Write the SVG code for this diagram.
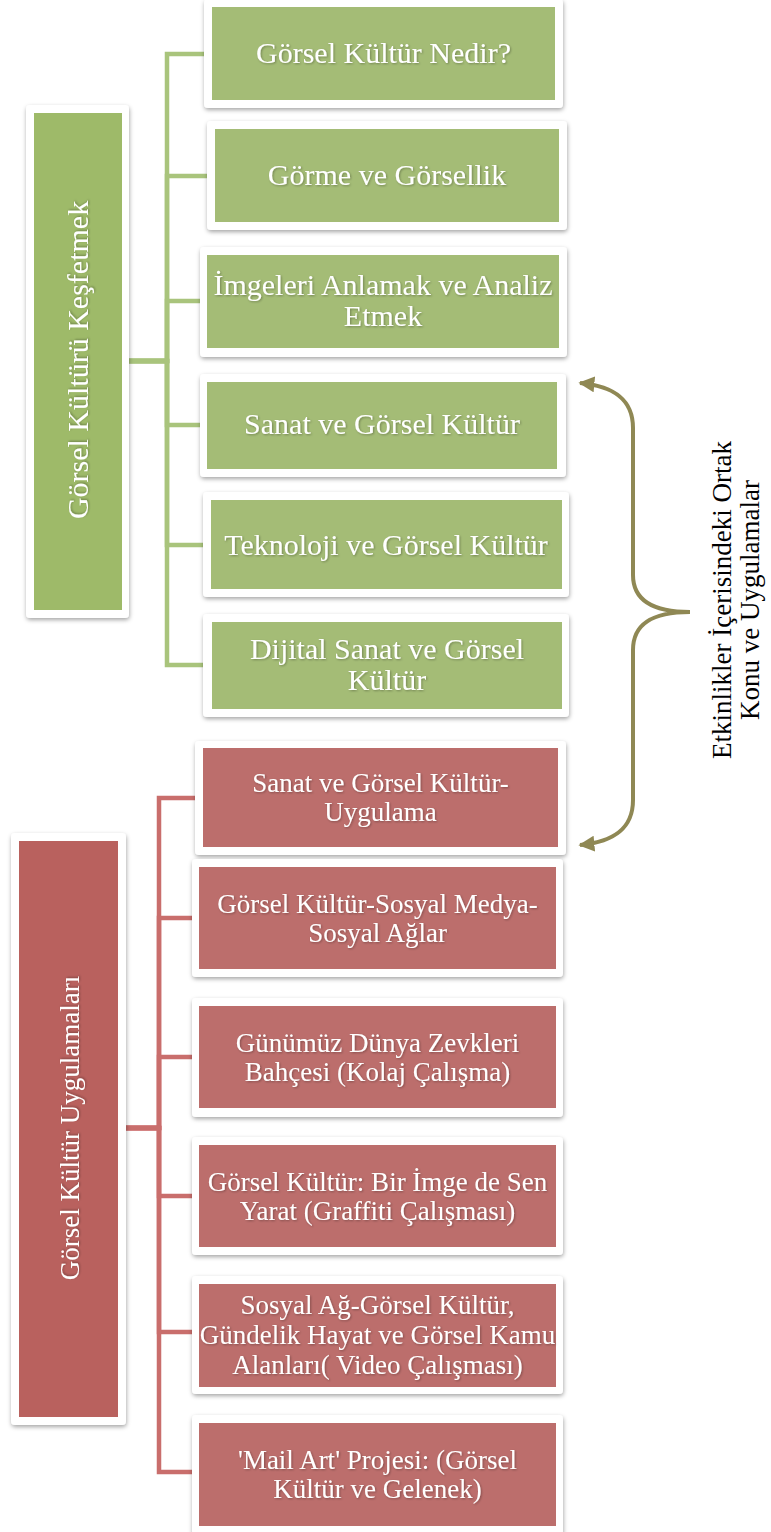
<svg xmlns="http://www.w3.org/2000/svg" width="771" height="1532" viewBox="0 0 771 1532">
  <style>
    .frame { fill: #ffffff; filter: url(#shadow); }
    .g-root { fill: #9EBA69; }
    .g-child { fill: #A4BC76; }
    .r-root { fill: #B9615E; }
    .r-child { fill: #BC6E6C; }
    .g-conn { fill: none; stroke: #A9C47C; stroke-width: 4.5; }
    .r-conn { fill: none; stroke: #C96E6C; stroke-width: 4.5; }
    .g-txt { font-family: "Liberation Serif", serif; font-size: 30px; fill: #ffffff; text-anchor: middle; filter: url(#tshadow); }
    .r-txt { font-family: "Liberation Serif", serif; font-size: 27px; fill: #ffffff; text-anchor: middle; filter: url(#tshadow); }
    .side { font-family: "Liberation Serif", serif; font-size: 27px; fill: #000000; text-anchor: middle; }
    .brace { fill: none; stroke: #8F8854; stroke-width: 4; marker-start: url(#ah); marker-end: url(#ah); }
  </style>
  <defs>
    <filter id="shadow" x="-10%" y="-10%" width="120%" height="130%">
      <feDropShadow dx="0.5" dy="2" stdDeviation="2" flood-color="#000000" flood-opacity="0.35"/>
    </filter>
    <filter id="tshadow" x="-5%" y="-20%" width="110%" height="140%">
      <feDropShadow dx="1" dy="1" stdDeviation="1" flood-color="#000000" flood-opacity="0.3"/>
    </filter>
    <marker id="ah" viewBox="0 0 10 10" refX="9" refY="5" markerWidth="4" markerHeight="4" markerUnits="strokeWidth" orient="auto-start-reverse">
      <path d="M0,0 L10,5 L0,10 z" fill="#8F8854"/>
    </marker>
  </defs>

  <rect width="771" height="1532" fill="#ffffff"/>

  <g id="connectors">
    <path class="g-conn" d="M129 361 H167 V54 H205"/>
    <path class="g-conn" d="M129 361 H167 V176 H208"/>
    <path class="g-conn" d="M129 361 H167 V301 H201"/>
    <path class="g-conn" d="M129 361 H167 V425 H201"/>
    <path class="g-conn" d="M129 361 H167 V545 H204"/>
    <path class="g-conn" d="M129 361 H167 V665 H204"/>
    <path class="r-conn" d="M126 1128 H159 V798 H196"/>
    <path class="r-conn" d="M126 1128 H159 V918 H193"/>
    <path class="r-conn" d="M126 1128 H159 V1057 H193"/>
    <path class="r-conn" d="M126 1128 H159 V1196 H193"/>
    <path class="r-conn" d="M126 1128 H159 V1332 H193"/>
    <path class="r-conn" d="M126 1128 H159 V1472 H193"/>
    <path class="brace" d="M580 383 C612 386 633 398 633 428 L633 575 C633 600 652 612 690 612 C652 612 633 624 633 650 L633 800 C633 830 612 842 580 845"/>
  </g>

  <g id="root-green">
    <rect class="frame" x="26" y="105" width="103" height="513" rx="4"/>
    <rect class="g-root" x="34" y="113" width="88" height="497"/>
    <text class="g-txt" transform="translate(88,360) rotate(-90)">Görsel Kültürü Keşfetmek</text>
  </g>

  <g id="g1">
    <rect class="frame" x="204" y="-1" width="359" height="109" rx="4"/>
    <rect class="g-child" x="212" y="7" width="343" height="93"/>
    <text class="g-txt" x="383.5" y="63">Görsel Kültür Nedir?</text>
  </g>
  <g id="g2">
    <rect class="frame" x="207" y="121" width="360" height="109" rx="4"/>
    <rect class="g-child" x="215" y="129" width="344" height="93"/>
    <text class="g-txt" x="387" y="185">Görme ve Görsellik</text>
  </g>
  <g id="g3">
    <rect class="frame" x="200" y="247" width="367" height="110" rx="4"/>
    <rect class="g-child" x="207" y="255" width="352" height="93"/>
    <text class="g-txt" x="383" y="295">İmgeleri Anlamak ve Analiz</text>
    <text class="g-txt" x="383" y="326">Etmek</text>
  </g>
  <g id="g4">
    <rect class="frame" x="200" y="374" width="366" height="103" rx="4"/>
    <rect class="g-child" x="207" y="382" width="350" height="87"/>
    <text class="g-txt" x="382" y="434">Sanat ve Görsel Kültür</text>
  </g>
  <g id="g5">
    <rect class="frame" x="203" y="492" width="366" height="105" rx="4"/>
    <rect class="g-child" x="211" y="500" width="351" height="89"/>
    <text class="g-txt" x="386" y="555">Teknoloji ve Görsel Kültür</text>
  </g>
  <g id="g6">
    <rect class="frame" x="203" y="614" width="366" height="103" rx="4"/>
    <rect class="g-child" x="212" y="622" width="350" height="87"/>
    <text class="g-txt" x="387" y="659">Dijital Sanat ve Görsel</text>
    <text class="g-txt" x="387" y="690">Kültür</text>
  </g>

  <g id="root-red">
    <rect class="frame" x="11" y="833" width="115" height="592" rx="4"/>
    <rect class="r-root" x="19" y="841" width="99" height="576"/>
    <text class="r-txt" transform="translate(79,1128) rotate(-90)">Görsel Kültür Uygulamaları</text>
  </g>

  <g id="r1">
    <rect class="frame" x="195" y="741" width="371" height="114" rx="4"/>
    <rect class="r-child" x="203" y="748" width="355" height="99"/>
    <text class="r-txt" x="380.5" y="792">Sanat ve Görsel Kültür-</text>
    <text class="r-txt" x="380.5" y="821">Uygulama</text>
  </g>
  <g id="r2">
    <rect class="frame" x="192" y="859" width="371" height="118" rx="4"/>
    <rect class="r-child" x="199" y="867" width="357" height="102"/>
    <text class="r-txt" x="377.5" y="913">Görsel Kültür-Sosyal Medya-</text>
    <text class="r-txt" x="377.5" y="942">Sosyal Ağlar</text>
  </g>
  <g id="r3">
    <rect class="frame" x="192" y="998" width="371" height="119" rx="4"/>
    <rect class="r-child" x="199" y="1006" width="357" height="102"/>
    <text class="r-txt" x="377.5" y="1052">Günümüz Dünya Zevkleri</text>
    <text class="r-txt" x="377.5" y="1081">Bahçesi (Kolaj Çalışma)</text>
  </g>
  <g id="r4">
    <rect class="frame" x="192" y="1137" width="371" height="118" rx="4"/>
    <rect class="r-child" x="199" y="1145" width="357" height="102"/>
    <text class="r-txt" x="377.5" y="1191">Görsel Kültür: Bir İmge de Sen</text>
    <text class="r-txt" x="377.5" y="1220">Yarat (Graffiti Çalışması)</text>
  </g>
  <g id="r5">
    <rect class="frame" x="192" y="1276" width="371" height="118" rx="4"/>
    <rect class="r-child" x="199" y="1284" width="357" height="103"/>
    <text class="r-txt" x="377.5" y="1314">Sosyal Ağ-Görsel Kültür,</text>
    <text class="r-txt" x="377.5" y="1344">Gündelik Hayat ve Görsel Kamu</text>
    <text class="r-txt" x="377.5" y="1374">Alanları( Video Çalışması)</text>
  </g>
  <g id="r6">
    <rect class="frame" x="192" y="1415" width="371" height="120" rx="4"/>
    <rect class="r-child" x="199" y="1423" width="357" height="103"/>
    <text class="r-txt" x="377.5" y="1469">'Mail Art' Projesi: (Görsel</text>
    <text class="r-txt" x="377.5" y="1498">Kültür ve Gelenek)</text>
  </g>

  <g id="side-label">
    <text class="side" transform="translate(731,600) rotate(-90)"><tspan x="0" y="0">Etkinlikler İçerisindeki Ortak</tspan><tspan x="0" y="28">Konu ve Uygulamalar</tspan></text>
  </g>
</svg>
